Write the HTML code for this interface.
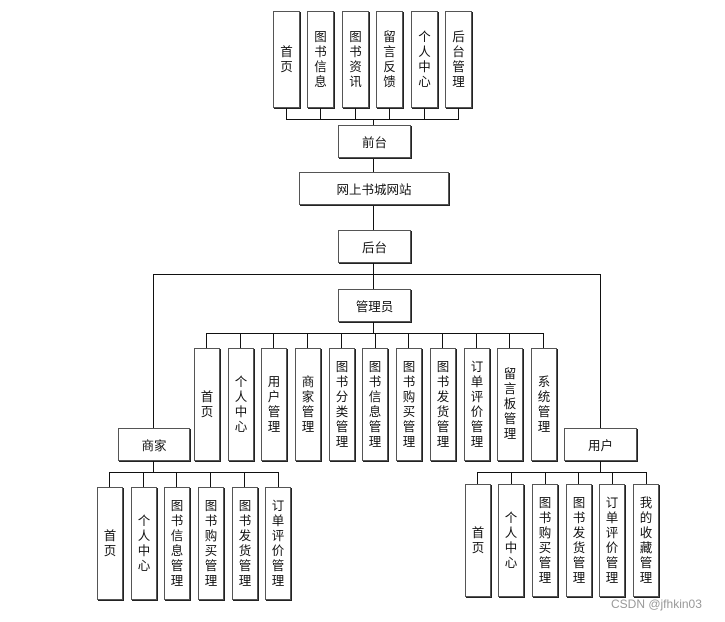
<!DOCTYPE html>
<html><head><meta charset="utf-8"><style>
body{margin:0;width:725px;height:622px;background:#fff;position:relative;overflow:hidden;font-family:"Liberation Sans","Noto Sans CJK SC",sans-serif;color:#111}
.b{position:absolute;box-sizing:border-box;border:1.5px solid #555;box-shadow:1px 1px 0 #222;background:#fff;display:flex;align-items:center;justify-content:center;font-size:12.5px}
.b span{display:block;width:14px;line-height:15px;text-align:center;word-break:break-all}
.h{position:absolute;height:1.3px;background:#111}
.v{position:absolute;width:1.3px;background:#111}
</style></head><body>
<!-- top -->
<div class="b" style="left:273px;top:11px;width:27px;height:97px"><span>首页</span></div>
<div class="b" style="left:307px;top:11px;width:27px;height:97px"><span>图书信息</span></div>
<div class="b" style="left:342px;top:11px;width:27px;height:97px"><span>图书资讯</span></div>
<div class="b" style="left:376px;top:11px;width:27px;height:97px"><span>留言反馈</span></div>
<div class="b" style="left:411px;top:11px;width:27px;height:97px"><span>个人中心</span></div>
<div class="b" style="left:445px;top:11px;width:27px;height:97px"><span>后台管理</span></div>
<div class="h" style="left:286px;top:119px;width:173px"></div>
<div class="v" style="left:286px;top:108px;height:11px"></div>
<div class="v" style="left:320px;top:108px;height:11px"></div>
<div class="v" style="left:355px;top:108px;height:11px"></div>
<div class="v" style="left:389px;top:108px;height:11px"></div>
<div class="v" style="left:424px;top:108px;height:11px"></div>
<div class="v" style="left:458px;top:108px;height:11px"></div>
<div class="v" style="left:373px;top:119px;height:111px"></div>
<div class="b" style="left:338px;top:125px;width:73px;height:33px">前台</div>
<div class="b" style="left:299px;top:172px;width:150px;height:33px">网上书城网站</div>
<div class="b" style="left:338px;top:230px;width:73px;height:33px">后台</div>
<div class="v" style="left:373px;top:263px;height:26px"></div>
<div class="h" style="left:153px;top:274px;width:448px"></div>
<div class="v" style="left:153px;top:274px;height:154px"></div>
<div class="v" style="left:600px;top:274px;height:154px"></div>
<div class="b" style="left:338px;top:289px;width:73px;height:33px">管理员</div>
<div class="v" style="left:373px;top:322px;height:11px"></div>
<!-- admin -->
<div class="h" style="left:206px;top:333px;width:338px"></div>
<div class="v" style="left:206px;top:333px;height:15px"></div>
<div class="v" style="left:240px;top:333px;height:15px"></div>
<div class="v" style="left:273px;top:333px;height:15px"></div>
<div class="v" style="left:307px;top:333px;height:15px"></div>
<div class="v" style="left:341px;top:333px;height:15px"></div>
<div class="v" style="left:375px;top:333px;height:15px"></div>
<div class="v" style="left:408px;top:333px;height:15px"></div>
<div class="v" style="left:442px;top:333px;height:15px"></div>
<div class="v" style="left:476px;top:333px;height:15px"></div>
<div class="v" style="left:509px;top:333px;height:15px"></div>
<div class="v" style="left:543px;top:333px;height:15px"></div>
<div class="b" style="left:194px;top:348px;width:26px;height:113px"><span>首页</span></div>
<div class="b" style="left:228px;top:348px;width:26px;height:113px"><span>个人中心</span></div>
<div class="b" style="left:261px;top:348px;width:26px;height:113px"><span>用户管理</span></div>
<div class="b" style="left:295px;top:348px;width:26px;height:113px"><span>商家管理</span></div>
<div class="b" style="left:329px;top:348px;width:26px;height:113px"><span>图书分类管理</span></div>
<div class="b" style="left:362px;top:348px;width:26px;height:113px"><span>图书信息管理</span></div>
<div class="b" style="left:396px;top:348px;width:26px;height:113px"><span>图书购买管理</span></div>
<div class="b" style="left:430px;top:348px;width:26px;height:113px"><span>图书发货管理</span></div>
<div class="b" style="left:464px;top:348px;width:26px;height:113px"><span>订单评价管理</span></div>
<div class="b" style="left:497px;top:348px;width:26px;height:113px"><span>留言板管理</span></div>
<div class="b" style="left:531px;top:348px;width:26px;height:113px"><span>系统管理</span></div>
<!-- merchant -->
<div class="b" style="left:118px;top:428px;width:72px;height:33px">商家</div>
<div class="v" style="left:153px;top:461px;height:11px"></div>
<div class="h" style="left:109px;top:472px;width:170px"></div>
<div class="v" style="left:109px;top:472px;height:15px"></div>
<div class="v" style="left:143px;top:472px;height:15px"></div>
<div class="v" style="left:176px;top:472px;height:15px"></div>
<div class="v" style="left:210px;top:472px;height:15px"></div>
<div class="v" style="left:244px;top:472px;height:15px"></div>
<div class="v" style="left:278px;top:472px;height:15px"></div>
<div class="b" style="left:97px;top:487px;width:26px;height:113px"><span>首页</span></div>
<div class="b" style="left:131px;top:487px;width:26px;height:113px"><span>个人中心</span></div>
<div class="b" style="left:164px;top:487px;width:26px;height:113px"><span>图书信息管理</span></div>
<div class="b" style="left:198px;top:487px;width:26px;height:113px"><span>图书购买管理</span></div>
<div class="b" style="left:232px;top:487px;width:26px;height:113px"><span>图书发货管理</span></div>
<div class="b" style="left:265px;top:487px;width:26px;height:113px"><span>订单评价管理</span></div>
<!-- user -->
<div class="b" style="left:564px;top:428px;width:73px;height:33px">用户</div>
<div class="v" style="left:600px;top:461px;height:11px"></div>
<div class="h" style="left:477px;top:472px;width:170px"></div>
<div class="v" style="left:477px;top:472px;height:12px"></div>
<div class="v" style="left:511px;top:472px;height:12px"></div>
<div class="v" style="left:545px;top:472px;height:12px"></div>
<div class="v" style="left:578px;top:472px;height:12px"></div>
<div class="v" style="left:612px;top:472px;height:12px"></div>
<div class="v" style="left:646px;top:472px;height:12px"></div>
<div class="b" style="left:465px;top:484px;width:26px;height:113px"><span>首页</span></div>
<div class="b" style="left:498px;top:484px;width:26px;height:113px"><span>个人中心</span></div>
<div class="b" style="left:532px;top:484px;width:26px;height:113px"><span>图书购买管理</span></div>
<div class="b" style="left:566px;top:484px;width:26px;height:113px"><span>图书发货管理</span></div>
<div class="b" style="left:599px;top:484px;width:26px;height:113px"><span>订单评价管理</span></div>
<div class="b" style="left:633px;top:484px;width:26px;height:113px"><span>我的收藏管理</span></div>
<div style="position:absolute;left:611px;top:597px;font-size:12px;color:#999">CSDN @jfhkin03</div>
</body></html>
